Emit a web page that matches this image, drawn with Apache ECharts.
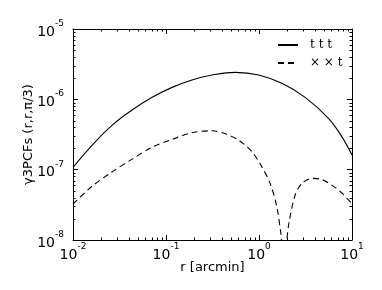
<!DOCTYPE html>
<html><head><meta charset="utf-8">
<script src="https://cdn.jsdelivr.net/npm/echarts@6/dist/echarts.min.js"></script>
<style>html,body{margin:0;padding:0;background:#fff}#c{width:382px;height:290px}</style>
</head><body><div id="c"></div>
<script>
// ---- data ----
const rSolid = [0.01, 0.01611, 0.02642, 0.04325, 0.07096, 0.1161, 0.1905, 0.3126, 0.5559, 0.9908, 1.762, 3.133, 5.585, 7.762, 10];
const tttValues = [1.079e-7, 2.239e-7, 4.305e-7, 7.047e-7, 1.067e-6, 1.479e-6, 1.884e-6, 2.218e-6, 2.421e-6, 2.218e-6, 1.687e-6, 1.067e-6, 5.370e-7, 2.951e-7, 1.622e-7];
const rDashed = [0.01, 0.01611, 0.02642, 0.04325, 0.07096, 0.1161, 0.1905, 0.3126, 0.4335, 0.6039, 0.8395, 1.074, 1.318, 1.556, 1.718, 1.758, 1.811, 1.914, 1.995, 2.109, 2.449, 2.884, 3.698, 4.732, 6.053, 7.762, 9.141, 10];
const xxtValues = [3.236e-8, 5.848e-8, 9.333e-8, 1.413e-7, 2.089e-7, 2.692e-7, 3.350e-7, 3.573e-7, 3.236e-7, 2.630e-7, 1.799e-7, 1.096e-7, 6.383e-8, 2.951e-8, 1.242e-8, 8.913e-9, 4.467e-9, 3.981e-9, 1.0e-8, 1.820e-8, 4.365e-8, 6.383e-8, 7.516e-8, 7.244e-8, 6.026e-8, 4.677e-8, 3.715e-8, 3.311e-8];
const seriesNames = ['t t t', '\u00d7 \u00d7 t'];
const xTickExponents = [-2, -1, 0, 1];
const yTickExponents = [-8, -7, -6, -5];
const xLabel = 'r [arcmin]';
const yLabel = '\u03b33PCFs (r,r,\u03c0/3)';

const FONT = 'DejaVu Sans';
const xMin = Math.pow(10, xTickExponents[0]), xMax = Math.pow(10, xTickExponents[xTickExponents.length - 1]);
const yMin = Math.pow(10, yTickExponents[0]), yMax = Math.pow(10, yTickExponents[yTickExponents.length - 1]);

function supLabel(v) {
  const e = Math.round(Math.log10(v));
  return '{b|10}{s|' + e + '}';
}
const rich = {
  b: { fontSize: 14, fontFamily: FONT, color: '#000', lineHeight: 20, verticalAlign: 'bottom' },
  s: { fontSize: 9, fontFamily: FONT, color: '#000', lineHeight: 9, verticalAlign: 'top' }
};

const chart = echarts.init(document.getElementById('c'), null, { renderer: 'canvas' });
const axisLine = { show: true, lineStyle: { color: '#000', width: 1 } };
const tick = { show: true, inside: true, length: 5, lineStyle: { color: '#000', width: 1 } };

chart.setOption({
  animation: false,
  backgroundColor: '#fff',
  grid: { left: 73, right: 30, top: 29, bottom: 50, containLabel: false },
  legend: {
    orient: 'vertical', left: 272, top: 34,
    itemWidth: 20, itemHeight: 12, itemGap: 6,
    itemStyle: { color: 'transparent', borderColor: 'transparent', borderWidth: 0, opacity: 0 },
    textStyle: { fontFamily: 'DejaVu Serif', fontSize: 12, color: '#000', padding: [0, 0, 0, 7] },
    data: seriesNames
  },
  xAxis: [
    { type: 'log', logBase: 10, min: xMin, max: xMax, interval: 1, position: 'bottom',
      axisLine, axisTick: tick, splitLine: { show: false },
      axisLabel: { margin: 2, formatter: supLabel, rich },
      name: xLabel, nameLocation: 'middle', nameGap: 21, nameMoveOverlap: false,
      nameTextStyle: { fontFamily: FONT, fontSize: 13, color: '#000' } },
    { type: 'log', logBase: 10, min: xMin, max: xMax, interval: 1, position: 'top',
      axisLine, axisTick: tick, splitLine: { show: false }, axisLabel: { show: false } }
  ],
  yAxis: [
    { type: 'log', logBase: 10, min: yMin, max: yMax, interval: 1, position: 'left',
      axisLine, axisTick: tick, splitLine: { show: false },
      axisLabel: { margin: 9, formatter: supLabel, rich },
      name: yLabel, nameLocation: 'middle', nameGap: 38, nameMoveOverlap: false,
      nameTextStyle: { fontFamily: FONT, fontSize: 13, color: '#000' } },
    { type: 'log', logBase: 10, min: yMin, max: yMax, interval: 1, position: 'right',
      axisLine, axisTick: tick, splitLine: { show: false }, axisLabel: { show: false } }
  ],
  series: [
    { name: seriesNames[0], type: 'line', symbol: 'none', smooth: 0.4, clip: true,
      lineStyle: { color: '#000', width: 1.1, type: 'solid' },
      itemStyle: { color: '#000' },
      data: rSolid.map((r, i) => [r, tttValues[i]]) },
    { name: seriesNames[1], type: 'line', symbol: 'none', smooth: 0.3, clip: true,
      lineStyle: { color: '#000', width: 1.1, type: [6, 4] },
      itemStyle: { color: '#000' },
      data: rDashed.map((r, i) => [r, xxtValues[i]]) }
  ]
});

// minor ticks (2..9 per decade) on all four sides, positioned through the axes' own scales
function minorValues(e0, e1) {
  const out = [];
  for (let e = e0; e < e1; e++) for (let k = 2; k <= 9; k++) out.push(k * Math.pow(10, e));
  return out;
}
const g = [];
const yTop = chart.convertToPixel({ yAxisIndex: 0 }, yMax);
const yBot = chart.convertToPixel({ yAxisIndex: 0 }, yMin);
const xL = chart.convertToPixel({ xAxisIndex: 0 }, xMin);
const xR = chart.convertToPixel({ xAxisIndex: 0 }, xMax);
const ML = 2.5;
minorValues(xTickExponents[0], xTickExponents[xTickExponents.length - 1]).forEach(v => {
  const x = Math.round(chart.convertToPixel({ xAxisIndex: 0 }, v)) + 0.5;
  g.push({ type: 'line', shape: { x1: x, y1: yBot, x2: x, y2: yBot - ML }, style: { stroke: '#000', lineWidth: 1 }, silent: true });
  g.push({ type: 'line', shape: { x1: x, y1: yTop, x2: x, y2: yTop + ML }, style: { stroke: '#000', lineWidth: 1 }, silent: true });
});
minorValues(yTickExponents[0], yTickExponents[yTickExponents.length - 1]).forEach(v => {
  const y = Math.round(chart.convertToPixel({ yAxisIndex: 0 }, v)) + 0.5;
  g.push({ type: 'line', shape: { x1: xL, y1: y, x2: xL + ML, y2: y }, style: { stroke: '#000', lineWidth: 1 }, silent: true });
  g.push({ type: 'line', shape: { x1: xR, y1: y, x2: xR - ML, y2: y }, style: { stroke: '#000', lineWidth: 1 }, silent: true });
});
chart.setOption({ graphic: g });
</script>
</body></html>
